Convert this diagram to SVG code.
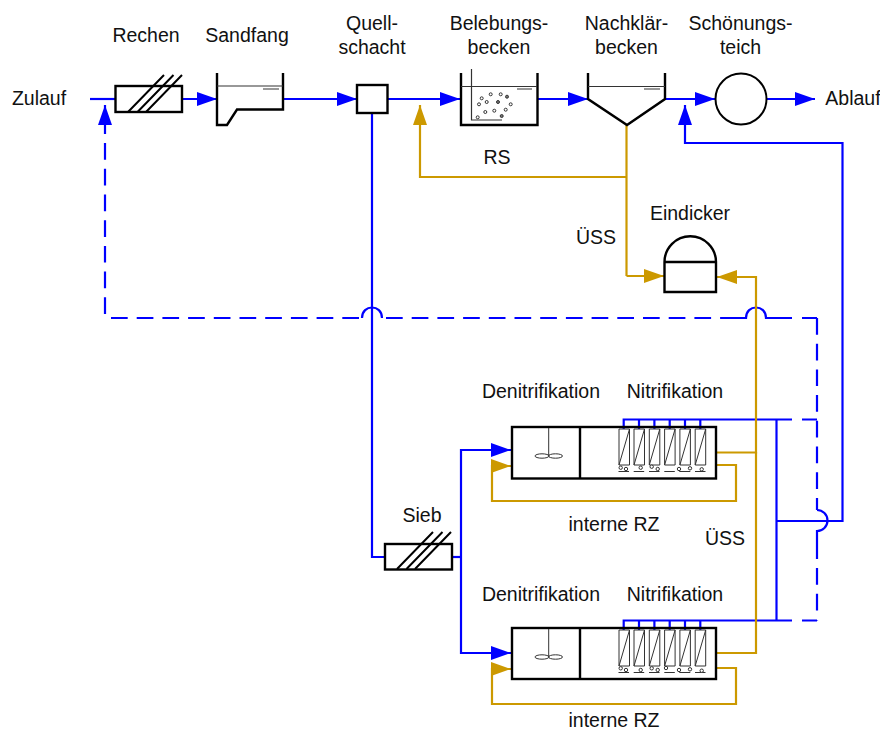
<svg xmlns="http://www.w3.org/2000/svg" xmlns:xlink="http://www.w3.org/1999/xlink" width="880" height="731" viewBox="0 0 880 731">
<style>
text{font-family:"Liberation Sans",Arial,sans-serif;font-size:19.5px;fill:#111;text-anchor:middle}
.b,.g,.d,.k,.t{fill:none}
.b{stroke:#0000ff;stroke-width:2.2}
.d{stroke:#0000ff;stroke-width:2.2;stroke-dasharray:16.7 9}
.g{stroke:#cc9900;stroke-width:2.2}
.k{stroke:#000;stroke-width:2.4}
.t{stroke:#333;stroke-width:1.2}
.w{fill:#fff;stroke:#000;stroke-width:2.4}
.a{fill:none;stroke:#333;stroke-width:1}
.p{fill:#fff;stroke:#333;stroke-width:1}
.ab{marker-end:url(#ab)}
.ag{marker-end:url(#ag)}
</style>
<defs>
<marker id="ab" markerUnits="userSpaceOnUse" markerWidth="20" markerHeight="14" viewBox="0 0 20 14" refX="20" refY="7" orient="auto"><path d="M0 0L20 7L0 14Z" fill="#0000ff"/></marker>
<marker id="ag" markerUnits="userSpaceOnUse" markerWidth="20" markerHeight="14" viewBox="0 0 20 14" refX="20" refY="7" orient="auto"><path d="M0 0L20 7L0 14Z" fill="#cc9900"/></marker>
<g id="hatch"><path d="M0 26L36 -11M9.500 26L45.500 -11M18 26L54 -11" fill="none" stroke="#000" stroke-width="2"/></g>
<g id="tanks">
<path class="p" d="M619 429h10.500v36h-10.500zM634 429h10.500v36h-10.500zM649.300 429h10.500v36h-10.500zM664.600 429h10.500v36h-10.500zM679.900 429h10.500v36h-10.500zM695.200 429h10.500v36h-10.500z"/>
<path class="a" d="M619 465L629.500 429M634 465L644.500 429M649.300 465L659.800 429M664.600 465L675.100 429M679.900 465L690.400 429M695.200 465L705.700 429"/>
<path class="a" stroke-width="1.200" d="M618.500 471.500h10.500M633.700 471.500h10.500M649 471.500h10.500M664.300 471.500h10.500M679.300 471.500h11M695 471.500h10.500"/>
</g>
<g id="mixer">
<path class="a" d="M548.700 428V456"/>
<ellipse class="a" cx="542" cy="456" rx="7" ry="2.200"/>
<ellipse class="a" cx="555.500" cy="456" rx="7" ry="2.200"/>
</g>
</defs>

<g id="connectors">
<path class="b" d="M90 99H115"/>
<path class="b ab" d="M182 99H217"/>
<path class="b ab" d="M283 99H357"/>
<path class="b ab" d="M387 99H460"/>
<path class="b ab" d="M537 99H588"/>
<path class="b ab" d="M665 99H715"/>
<path class="b ab" d="M767 99H815"/>
<path class="b" d="M372 113V557H385"/>
<path class="b" d="M452 557H461"/>
<path class="b ab" d="M461 557V450H511"/>
<path class="b ab" d="M461 557V653H511"/>
<path class="b" d="M623.700 429V419.500H792M639 429V419.500M654.400 429V419.500M669.700 429V419.500M685 429V419.500M700.300 429V419.500M802 419.500H817"/>
<path class="b" d="M623.700 630V620.500H792M639 630V620.500M654.400 630V620.500M669.700 630V620.500M685 630V620.500M700.300 630V620.500M802 620.500H817"/>
<path class="b" d="M776.500 419.500V620.500"/>
<path class="b ab" d="M776.500 521H842.500V143H685V105"/>
<path class="d ab" d="M105 314V105"/>
<path class="d" d="M111 318H362"/>
<path class="b" d="M362 318C362 304 382 304 382 318"/>
<path class="d" d="M386 318H737"/>
<path class="b" d="M736 318H746C746 304 766 304 766 318H792M802 318H817"/>
<path class="d" d="M817 318V510"/>
<path class="b" d="M817 510A10.500 10.500 0 0 1 817 531V559"/>
<path class="d" d="M817 568V611"/>
<path class="b" d="M817 620V620.500"/>
<path class="g" d="M626.500 125V276"/>
<path class="g ag" d="M626.500 276H664"/>
<path class="g ag" d="M626.500 177H420V105"/>
<path class="g ag" d="M716 452.500H756V277H717"/>
<path class="g" d="M716 653H756V452"/>
<path class="g ag" d="M716 465H736V501H492V466H511"/>
<path class="g ag" d="M716 668H736V704H492V669H511"/>
</g>

<g id="rechen">
<use xlink:href="#hatch" href="#hatch" x="128" y="86"/>
<rect x="115.500" y="86" width="66.500" height="26" fill="none" stroke="#000" stroke-width="2.400"/>
<text x="146" y="42.300">Rechen</text>
</g>
<g id="sandfang">
<path class="k" d="M217 73V125H227L237 109.500H283V73"/>
<path class="t" d="M217 86H283M263 89H279"/>
<text x="247" y="42.300">Sandfang</text>
</g>
<g id="quellschacht">
<rect class="w" x="357" y="85" width="30.500" height="28"/>
<text x="372" y="29.500">Quell-</text>
<text x="372" y="53.500">schacht</text>
</g>
<g id="belebungsbecken">
<path class="k" d="M461 73V125H537.500V73"/>
<path class="t" d="M461 86.500H537M517 89H532M471.500 69V120H502"/>
<g fill="#fff" stroke="#333" stroke-width="1">
<circle cx="481.700" cy="98.300" r="1.500"/><circle cx="490.700" cy="94.300" r="1.500"/><circle cx="500.700" cy="94.300" r="1.500"/><circle cx="507" cy="96.700" r="1.500" fill="#777"/><circle cx="479" cy="104.300" r="1.500"/><circle cx="486.700" cy="102" r="1.500"/><circle cx="498" cy="102" r="1.500" fill="#777"/><circle cx="510.700" cy="104.300" r="1.500"/><circle cx="485.300" cy="112" r="1.500"/><circle cx="494.300" cy="110.700" r="1.500"/><circle cx="505.700" cy="109.700" r="1.500"/><circle cx="501.700" cy="116" r="1.500" fill="#777"/><circle cx="477.700" cy="117.300" r="1.500"/>
</g>
<text x="499" y="29.500">Belebungs-</text>
<text x="499" y="53.500">becken</text>
</g>
<g id="nachklaerbecken">
<path class="k" d="M588 73V99L627 125L665 99V73"/>
<path class="t" d="M588 86.500H665M644 89H660"/>
<text x="626.500" y="29.500">Nachklär-</text>
<text x="626.500" y="53.500">becken</text>
</g>
<g id="schoenungsteich">
<circle cx="741" cy="99" r="25.500" fill="#fff" stroke="#000" stroke-width="2"/>
<text x="740.500" y="29.500">Schönungs-</text>
<text x="740.500" y="53.500">teich</text>
</g>
<g id="eindicker">
<path class="k" d="M664.500 262V292H716V262M664.500 262A25.750 25.750 0 0 1 716 262ZM664.500 262H716"/>
<text x="690" y="219.500">Eindicker</text>
</g>
<g id="sieb">
<use xlink:href="#hatch" href="#hatch" x="397" y="543"/>
<rect x="385" y="544" width="67" height="25.500" fill="none" stroke="#000" stroke-width="2.400"/>
<text x="422" y="522">Sieb</text>
</g>
<g id="reaktor1">
<rect class="k" x="512" y="427" width="204" height="51.500"/>
<path class="k" d="M580 427V478"/>
<use xlink:href="#mixer" href="#mixer"/>
<use xlink:href="#tanks" href="#tanks"/>
<g class="p"><circle cx="620.700" cy="467.700" r="1.700"/><circle cx="626" cy="469" r="1.700"/><circle cx="640.700" cy="467.700" r="1.700"/><circle cx="651.700" cy="466.700" r="1.700"/><circle cx="657.700" cy="469" r="1.700"/><circle cx="679" cy="469" r="1.700"/><circle cx="690" cy="468.300" r="1.700"/><circle cx="701.700" cy="469.300" r="1.700"/></g>
<text x="541" y="397.500">Denitrifikation</text>
<text x="675" y="397.500">Nitrifikation</text>
<text x="614" y="530.500">interne RZ</text>
</g>
<g id="reaktor2">
<rect class="k" x="512" y="628" width="204" height="51"/>
<path class="k" d="M580 628V679"/>
<use xlink:href="#mixer" href="#mixer" y="201"/>
<use xlink:href="#tanks" href="#tanks" y="201"/>
<g class="p"><circle cx="620.700" cy="668.300" r="1.700"/><circle cx="626" cy="670" r="1.700"/><circle cx="640.700" cy="670" r="1.700"/><circle cx="651.700" cy="668.300" r="1.700"/><circle cx="657.700" cy="670" r="1.700"/><circle cx="666" cy="668" r="1.700"/><circle cx="679" cy="670" r="1.700"/><circle cx="690" cy="669.300" r="1.700"/><circle cx="701.700" cy="670.700" r="1.700"/></g>
<text x="541" y="600.500">Denitrifikation</text>
<text x="675" y="600.500">Nitrifikation</text>
<text x="614" y="726.800">interne RZ</text>
</g>
<g id="labels">
<text x="39" y="104.500">Zulauf</text>
<text x="853" y="104.500">Ablauf</text>
<text x="497" y="163.500">RS</text>
<text x="596" y="243.500">ÜSS</text>
<text x="725" y="544.500">ÜSS</text>
</g>
</svg>
